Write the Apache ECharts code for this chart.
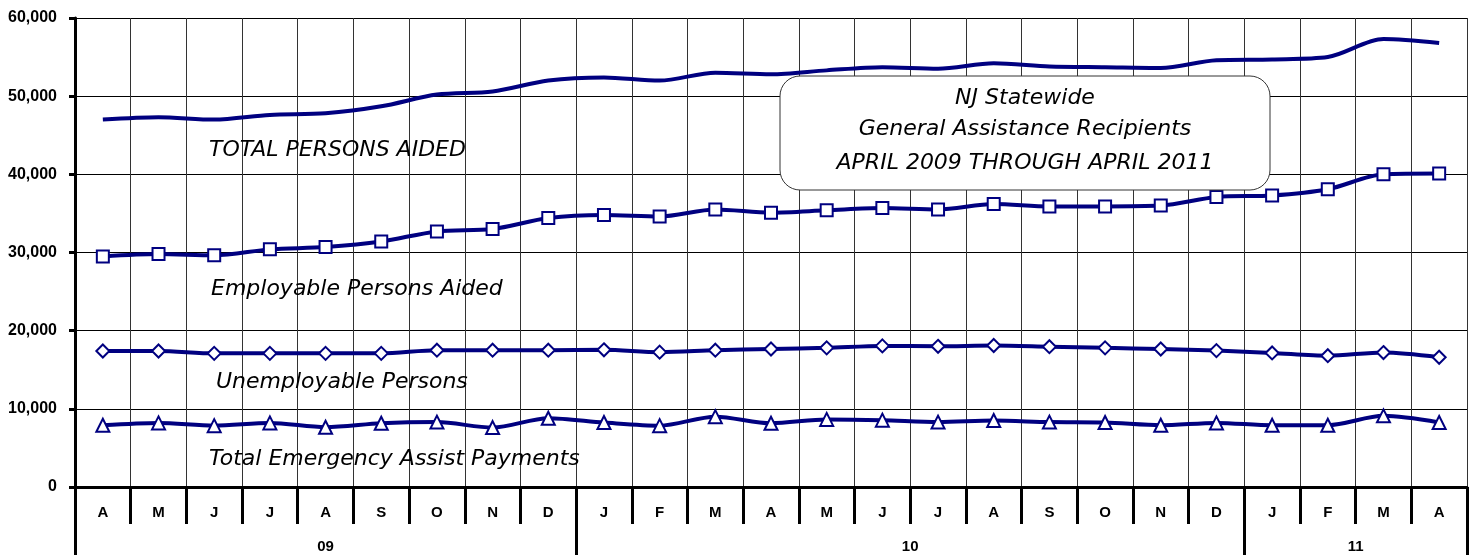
<!DOCTYPE html>
<html>
<head>
<meta charset="utf-8">
<script src="https://cdn.jsdelivr.net/npm/echarts@6/dist/echarts.min.js"></script>
<style>
  html, body { margin: 0; padding: 0; background: #fff; }
  #chart { width: 1477px; height: 555px; }
</style>
</head>
<body>
<div id="chart"></div>
<script>
// months April 2009 .. April 2011
var months = ['A', 'M', 'J', 'J', 'A', 'S', 'O', 'N', 'D', 'J', 'F', 'M', 'A', 'M', 'J', 'J', 'A', 'S', 'O', 'N', 'D', 'J', 'F', 'M', 'A']
var yearLabels = ['09', '10', '11']
var yearSpans = [9, 12, 4]

var totalAided = [47000, 47300, 47000, 47600, 47800, 48700, 50200, 50600, 52000, 52400, 52000, 53000, 52800, 53300, 53700, 53500, 54200, 53800, 53700, 53600, 54600, 54700, 55000, 57300, 56800]
var employable = [29500, 29800, 29650, 30400, 30700, 31400, 32700, 33000, 34400, 34800, 34600, 35500, 35100, 35400, 35700, 35500, 36200, 35900, 35900, 36000, 37100, 37300, 38100, 40000, 40100]
var unemployable = [17400, 17400, 17100, 17100, 17100, 17100, 17500, 17500, 17500, 17550, 17250, 17500, 17650, 17800, 18050, 18000, 18100, 17950, 17800, 17650, 17450, 17150, 16800, 17200, 16600]
var emergency = [7900, 8200, 7850, 8200, 7650, 8150, 8300, 7600, 8800, 8250, 7850, 9000, 8150, 8650, 8550, 8300, 8500, 8300, 8250, 7900, 8200, 7900, 7900, 9100, 8250]

var yTicks = [0, 10000, 20000, 30000, 40000, 50000, 60000]
var titleLines = ['NJ Statewide', 'General Assistance Recipients', 'APRIL 2009 THROUGH APRIL 2011']

// half-month slots for the year row (labels sit mid-span, ticks at year edges)
var halfSlots = []
var yearEdges = [0]
var pos = 0
yearSpans.forEach(function (span, i) {
  for (var k = 0; k < span * 2; k++) {
    halfSlots.push(k === span ? yearLabels[i] : '')
  }
  pos += span * 2
  yearEdges.push(pos)
})
halfSlots.push('')

var navy = '#000080'
var labelFont = 'italic 22px "DejaVu Sans"'
var charts = echarts.init(document.getElementById('chart'))

function seriesOf (name, data, symbol, size) {
  return {
    name: name,
    type: 'line',
    xAxisIndex: 0,
    data: data,
    smooth: 0.3,
    symbol: symbol,
    symbolSize: size,
    showSymbol: symbol !== 'none',
    lineStyle: { color: navy, width: 4 },
    itemStyle: { color: '#fff', borderColor: navy, borderWidth: 2 },
    z: 5
  }
}

function label (text, x, y, align) {
  return {
    type: 'text',
    x: x,
    y: y,
    z: 10,
    style: {
      text: text,
      fill: '#000',
      font: labelFont,
      align: align || 'left',
      verticalAlign: 'middle'
    }
  }
}

var options = {
  animation: false,
  grid: { left: 75, right: 10, top: 18, bottom: 68 },
  xAxis: [{
    type: 'category',
    position: 'bottom',
    data: months,
    boundaryGap: true,
    axisLine: { lineStyle: { color: '#000', width: 3 } },
    axisTick: { show: true, length: 37, lineStyle: { color: '#000', width: 3 } },
    axisLabel: { color: '#000', fontWeight: 'bold', fontSize: 15, fontFamily: 'Liberation Sans', margin: 18 },
    splitLine: { show: true, lineStyle: { color: '#333', width: 1 } }
  }, {
    type: 'category',
    position: 'bottom',
    data: halfSlots,
    boundaryGap: false,
    axisLine: { show: false },
    axisTick: {
      show: true,
      length: 80,
      interval: function (idx) { return yearEdges.indexOf(idx) >= 0 },
      lineStyle: { color: '#000', width: 3 }
    },
    axisLabel: {
      interval: 0,
      color: '#000',
      fontWeight: 'bold',
      fontSize: 15,
      fontFamily: 'Liberation Sans',
      margin: 52
    },
    splitLine: { show: false }
  }],
  yAxis: {
    type: 'value',
    min: yTicks[0],
    max: yTicks[yTicks.length - 1],
    interval: 10000,
    axisLine: { show: true, lineStyle: { color: '#000', width: 3 } },
    axisTick: { show: true, length: 6, lineStyle: { color: '#000', width: 3 } },
    axisLabel: {
      color: '#000',
      fontWeight: 'bold',
      fontSize: 16,
      fontFamily: 'Liberation Sans',
      margin: 18,
      formatter: function (v) { return v.toLocaleString('en-US') }
    },
    splitLine: { show: true, lineStyle: { color: '#000', width: 1 } }
  },
  series: [
    seriesOf('TOTAL PERSONS AIDED', totalAided, 'none', 0),
    seriesOf('Employable Persons Aided', employable, 'rect', 12),
    seriesOf('Unemployable Persons', unemployable, 'diamond', 13),
    seriesOf('Total Emergency Assist Payments', emergency, 'triangle', 13)
  ],
  graphic: [
    {
      type: 'rect',
      x: 780,
      y: 76,
      z: 8,
      shape: { width: 490, height: 114, r: 20 },
      style: { fill: '#fff', stroke: '#333', lineWidth: 1 }
    },
    label(titleLines[0], 1025, 98, 'center'),
    label(titleLines[1], 1025, 129, 'center'),
    label(titleLines[2], 1025, 163, 'center'),
    label('TOTAL PERSONS AIDED', 209, 150),
    label('Employable Persons Aided', 211, 289),
    label('Unemployable Persons', 216, 382),
    label('Total Emergency Assist Payments', 209, 459)
  ]
}

charts.clear()
charts.setOption(options)
window.addEventListener('resize', function () {
  charts.resize()
})
</script>
</body>
</html>
